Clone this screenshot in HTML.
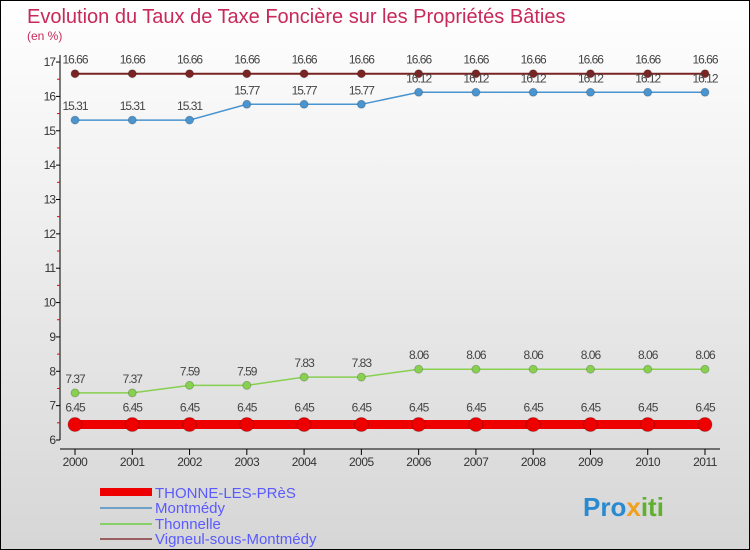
<!DOCTYPE html>
<html><head><meta charset="utf-8"><style>
body{margin:0}
svg{display:block;font-family:"Liberation Sans",sans-serif}
</style></head><body>
<svg width="750" height="550" viewBox="0 0 750 550" id="c">
<defs><linearGradient id="bg" x1="0" y1="0" x2="0" y2="1"><stop offset="0" stop-color="#ffffff"/><stop offset="1" stop-color="#d6d6d6"/></linearGradient></defs>
<rect x="0.5" y="0.5" width="749" height="549" fill="url(#bg)" stroke="#000"/>
<text x="27" y="23" font-size="20" fill="#c8285a">Evolution du Taux de Taxe Foncière sur les Propriétés Bâties</text>
<text x="27" y="40" font-size="12" fill="#c8285a">(en %)</text>
<g id="plot"></g>
<g>
<rect x="100" y="488" width="52" height="8" fill="#ee0000"/>
<text x="155" y="498" font-size="15" fill="#5a5aff">THONNE-LES-PRèS</text>
<rect x="100" y="507" width="52" height="2" fill="#6fa0c8"/>
<text x="155" y="513" font-size="15" fill="#5a5aff">Montmédy</text>
<rect x="100" y="523" width="52" height="2" fill="#88d066"/>
<text x="155" y="529" font-size="15" fill="#5a5aff">Thonnelle</text>
<rect x="100" y="538" width="52" height="2" fill="#9a6060"/>
<text x="155" y="544" font-size="15" fill="#5a5aff">Vigneul-sous-Montmédy</text>
</g>
<text x="583" y="516" font-size="26" font-weight="bold" fill="#2a8ad0">Pro<tspan fill="#f0a020">x</tspan><tspan fill="#60b030">iti</tspan></text>
</svg>
<script>
const years=["2000","2001","2002","2003","2004","2005","2006","2007","2008","2009","2010","2011"];
const yTicks=[6,7,8,9,10,11,12,13,14,15,16,17];
const thonne=[6.45,6.45,6.45,6.45,6.45,6.45,6.45,6.45,6.45,6.45,6.45,6.45];
const montmedy=[15.31,15.31,15.31,15.77,15.77,15.77,16.12,16.12,16.12,16.12,16.12,16.12];
const thonnelle=[7.37,7.37,7.59,7.59,7.83,7.83,8.06,8.06,8.06,8.06,8.06,8.06];
const vigneul=[16.66,16.66,16.66,16.66,16.66,16.66,16.66,16.66,16.66,16.66,16.66,16.66];
const NS="http://www.w3.org/2000/svg";
const g=document.getElementById('plot');
const X=i=>75+i*(630/(years.length-1));
const Y=v=>440-(v-6)*34.36;
function mk(t,a){const e=document.createElementNS(NS,t);for(const k in a)e.setAttribute(k,a[k]);g.appendChild(e);return e;}
let ax=mk('line',{x1:60,y1:55,x2:60,y2:440,stroke:'#000'});


yTicks.forEach(v=>{
 let t=mk('line',{x1:56,y1:Y(v),x2:60,y2:Y(v),stroke:'#000'});
 
 
 if(v<17){let m=mk('line',{x1:57,y1:Y(v+0.5),x2:60,y2:Y(v+0.5),stroke:'#e00'});
 
 }
 let l=mk('text',{x:55,y:Y(v)+4,'font-size':12,fill:'#333','text-anchor':'end','letter-spacing':'-1'});
 l.textContent=v;
 
 
});
let xa=mk('line',{x1:60,y1:449,x2:720,y2:449,stroke:'#000'});


years.forEach((y,i)=>{
 let t=mk('line',{x1:X(i),y1:449,x2:X(i),y2:455,stroke:'#000'});
 
 
 let l=mk('text',{x:X(i),y:466,'font-size':12,fill:'#333','text-anchor':'middle','letter-spacing':'-0.5'});
 l.textContent=y;
 
 
});
function series(d,col,w,r,name){
 let p=mk('polyline',{points:d.map((v,i)=>X(i)+','+Y(v)).join(' '),fill:'none',stroke:col,'stroke-width':w});
 
 
 d.forEach((v,i)=>{
  let c=mk('circle',{cx:X(i),cy:Y(v),r:r,fill:col,stroke:'#0003'});
  
  
  let l=mk('text',{x:X(i),y:Y(v)-r-6,'font-size':12,fill:'#444','text-anchor':'middle','letter-spacing':'-1'});
  l.textContent=v.toFixed(2);
  
  
 });
}
series(vigneul,'#7a2424',2,4,'vigneul');
series(montmedy,'#4a94d0',1.5,4,'montmedy');
series(thonnelle,'#88d050',1.5,4,'thonnelle');
series(thonne,'#ee0000',9,7,'thonne');
</script>
</body></html>
